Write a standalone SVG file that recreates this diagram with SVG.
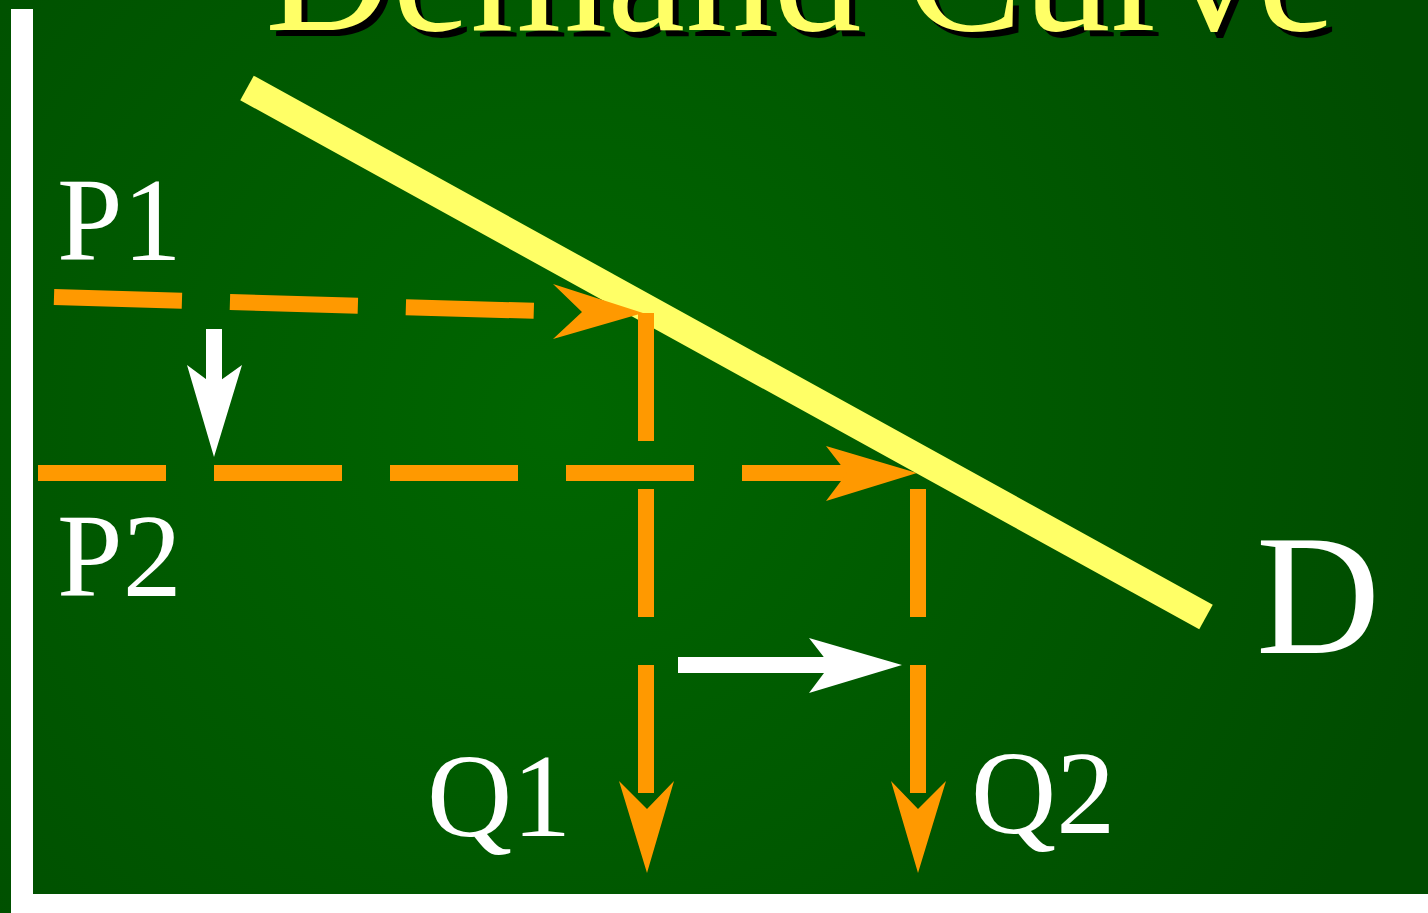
<svg xmlns="http://www.w3.org/2000/svg" width="1428" height="913" viewBox="0 0 1428 913">
<style>
.lbl{font-family:"Liberation Serif","Times New Roman",serif;fill:#ffffff}
.dash{stroke:#ff9900;stroke-width:16;fill:none;stroke-dasharray:128 48}
.oa{fill:#ff9900}
.wa{fill:#ffffff}
</style>
<defs>
<radialGradient id="bg" cx="560" cy="420" r="900" gradientUnits="userSpaceOnUse">
<stop offset="0" stop-color="#006600"/>
<stop offset="1" stop-color="#004c00"/>
</radialGradient>
</defs>
<rect x="0" y="0" width="1428" height="913" fill="url(#bg)"/>
<g id="title">
<text x="271" y="36" font-family="Liberation Serif, Times New Roman, serif" font-size="176" fill="#000000">Demand Curve</text>
<text x="265" y="30" font-family="Liberation Serif, Times New Roman, serif" font-size="176" fill="#ffff66">Demand Curve</text>
</g>
<g id="axes">
<rect x="11" y="9" width="22" height="904" fill="#ffffff"/>
<rect x="11" y="894" width="1417" height="19" fill="#ffffff"/>
</g>
<g id="connectors">
<line class="dash" x1="38" y1="473" x2="850" y2="473"/>
<polygon class="oa" points="826,446 917,473 826,501 847,473"/>
</g>
<g id="demand-curve">
<line x1="247" y1="88" x2="1206" y2="617" stroke="#ffff66" stroke-width="28"/>
</g>
<g id="connectors-top">
<line class="dash" x1="54" y1="297" x2="575" y2="312"/>
<polygon class="oa" points="553,284 643,313 553,339 582,312"/>
<line class="dash" x1="646" y1="313" x2="646" y2="793"/>
<polygon class="oa" points="619,781 647,809 674,781 647,873"/>
<line class="dash" x1="918" y1="489" x2="918" y2="969" style="stroke-dasharray:128 48 128 500"/>
<polygon class="oa" points="891,781 918,809 946,781 918,873"/>
<rect class="wa" x="206" y="329" width="16" height="60"/>
<polygon class="wa" points="187,365 214,385 242,365 214,457"/>
<rect class="wa" x="678" y="657" width="156" height="16"/>
<polygon class="wa" points="809,638 902,665 809,693 830,665"/>
</g>
<g id="labels">
<text class="lbl" x="57" y="260" font-size="118">P1</text>
<text class="lbl" x="57" y="596" font-size="118">P2</text>
<text class="lbl" x="427" y="836" font-size="118">Q1</text>
<text class="lbl" x="971" y="833" font-size="118">Q2</text>
<text class="lbl" x="1256" y="653" font-size="172">D</text>
</g>
</svg>
